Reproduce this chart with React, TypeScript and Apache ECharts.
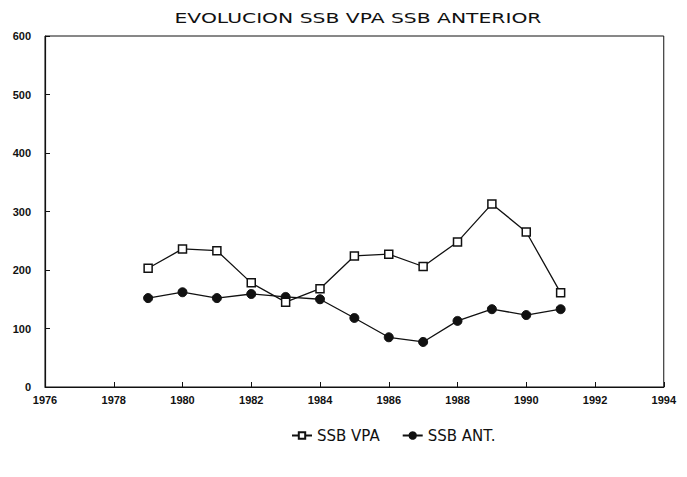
import React, { useEffect, useRef } from "react";
import * as echarts from "echarts";

const years = [1979, 1980, 1981, 1982, 1983, 1984, 1985, 1986, 1987, 1988, 1989, 1990, 1991];
const ssbVpa = [203, 236, 233, 178, 145, 168, 224, 227, 206, 248, 313, 265, 161];
const ssbAnt = [152, 162, 152, 159, 154, 150, 118, 85, 77, 113, 133, 123, 133];
const seriesNames = ["SSB VPA", "SSB ANT."];
const titleText = "EVOLUCION SSB VPA SSB ANTERIOR";

export default function App() {
  const ref = useRef<HTMLDivElement>(null);
  useEffect(() => {
    if (!ref.current) return;
    const chart = echarts.init(ref.current, undefined, { renderer: "svg" });
    const font = "Liberation Sans";
    chart.setOption({
      animation: false,
      backgroundColor: "#ffffff",
      graphic: [
        {
          type: "text",
          x: 350,
          y: 10,
          scaleX: 1.45,
          style: {
            text: titleText,
            fontFamily: "DejaVu Sans",
            fontSize: 14,
            fill: "#111",
            align: "center",
            verticalAlign: "middle",
          },
        },
      ],
      legend: {
        bottom: 21,
        left: 278,
        itemWidth: 20,
        itemHeight: 8,
        itemGap: 22,
        data: seriesNames,
        textStyle: { fontFamily: "DejaVu Sans", fontSize: 15, color: "#111" },
      },
      grid: {
        left: 37,
        right: 14,
        top: 28,
        bottom: 82,
        show: true,
        borderColor: "#111",
        borderWidth: 1,
      },
      xAxis: {
        type: "value",
        min: 1976,
        max: 1994,
        interval: 2,
        axisLine: { show: true, lineStyle: { color: "#111", width: 1.2 } },
        axisTick: { show: true, inside: true, length: 5, lineStyle: { color: "#111" } },
        splitLine: { show: false },
        axisLabel: {
          fontFamily: font,
          fontWeight: "bold",
          fontSize: 11,
          color: "#111",
          margin: 7,
          formatter: (v: number) => String(v),
        },
      },
      yAxis: {
        type: "value",
        min: 0,
        max: 600,
        interval: 100,
        axisLine: { show: true, lineStyle: { color: "#111", width: 1.2 } },
        axisTick: { show: true, inside: true, length: 5, lineStyle: { color: "#111" } },
        splitLine: { show: false },
        axisLabel: {
          fontFamily: font,
          fontWeight: "bold",
          fontSize: 11,
          color: "#111",
          margin: 14,
        },
      },
      series: [
        {
          name: seriesNames[0],
          type: "line",
          data: years.map((y, i) => [y, ssbVpa[i]]),
          symbol: "rect",
          symbolSize: 8,
          lineStyle: { color: "#111", width: 1.3 },
          itemStyle: { color: "#fff", borderColor: "#111", borderWidth: 1.5 },
          z: 3,
        },
        {
          name: seriesNames[1],
          type: "line",
          data: years.map((y, i) => [y, ssbAnt[i]]),
          symbol: "circle",
          symbolSize: 9,
          lineStyle: { color: "#111", width: 1.3 },
          itemStyle: { color: "#111", borderColor: "#111", borderWidth: 1 },
          z: 2,
        },
      ],
    });
    return () => chart.dispose();
  }, []);
  return <div ref={ref} style={{ width: 671, height: 461 }} />;
}
